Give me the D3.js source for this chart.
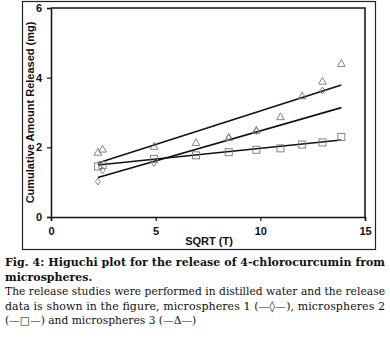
<!DOCTYPE html>
<html><head><meta charset="utf-8">
<script src="https://cdn.jsdelivr.net/npm/d3@7"></script>
<style>body{margin:0;background:#fff}svg{display:block}</style>
</head><body><svg id="c" width="390" height="339"></svg>
<script>
// Data
const sqrtT = [2.24, 2.46, 4.92, 6.93, 8.49, 9.81, 10.96, 12.0, 12.97, 13.87];
const micro3 = [1.86, 1.95, 2.03, 2.14, 2.28, 2.49, 2.88, 3.48, 3.90, 4.41];   // triangles
const micro2 = [1.45, 1.49, 1.67, 1.77, 1.86, 1.93, 1.97, 2.08, 2.14, 2.30];   // squares
const micro1 = [1.02, 1.34, 1.55, null, 2.29, 2.47, null, null, 3.63, null];   // diamonds (others hidden)
// linear trend lines [slope, intercept]
const fit1 = [0.1727, 0.745];
const fit2 = [0.0619, 1.352];
const fit3 = [0.1924, 1.121];
const xTicks = [0, 5, 10, 15];
const yTicks = [0, 2, 4, 6];
const xTitle = "SQRT (T)";
const yTitle = "Cumulative Amount Released (mg)";
const caption = [
  {t: "Fig. 4: Higuchi plot for the release of 4-chlorocurcumin from", b: true, j: true},
  {t: "microspheres.", b: true, j: false},
  {t: "The release studies were performed in distilled water and the release", b: false, j: true},
  {t: "data is shown in the figure, microspheres 1 (\u2014\u25CA\u2014), microspheres 2", b: false, j: true},
  {t: "(\u2014\u25A1\u2014) and microspheres 3 (\u2014\u0394\u2014)", b: false, j: false}
];

const svg = d3.select("#c");
const L = 51, R = 365, T = 8, B = 217;
const x = d3.scaleLinear().domain([0, 15]).range([L, R]);
const y = d3.scaleLinear().domain([0, 6]).range([B, T]);

// outer frame
svg.append("rect").attr("x", 22.5).attr("y", 1.5).attr("width", 353).attr("height", 248)
  .attr("fill", "none").attr("stroke", "#222").attr("stroke-width", 1.2);

// plot box (top / right)
svg.append("path").attr("d", `M${L},${T}H${R}V${B}`).attr("fill", "none")
  .attr("stroke", "#111").attr("stroke-width", 1.5);

const ax = svg.append("g").attr("transform", `translate(0,${B})`)
  .call(d3.axisBottom(x).tickValues(xTicks).tickFormat(d3.format("d")).tickSize(4).tickPadding(6));
const ay = svg.append("g").attr("transform", `translate(${L},0)`)
  .call(d3.axisLeft(y).tickValues(yTicks).tickFormat(d3.format("d")).tickSize(4).tickPadding(5));
[ax, ay].forEach(g => {
  g.select(".domain").attr("stroke", "#111").attr("stroke-width", 1.5);
  g.selectAll(".tick line").attr("stroke", "#111").attr("stroke-width", 1.2);
  g.selectAll("text").attr("font-family", "Liberation Sans, Arial, sans-serif")
    .attr("font-size", 11).attr("font-weight", "bold").attr("fill", "#111");
});

svg.append("text").attr("x", 209).attr("y", 245).attr("text-anchor", "middle")
  .attr("font-family", "Liberation Sans, Arial, sans-serif").attr("font-size", 11)
  .attr("font-weight", "bold").attr("fill", "#111").text(xTitle);
svg.append("text").attr("transform", `translate(34,${(T + B) / 2}) rotate(-90)`)
  .attr("text-anchor", "middle").attr("font-family", "Liberation Sans, Arial, sans-serif")
  .attr("font-size", 11).attr("font-weight", "bold").attr("fill", "#111").text(yTitle);

// trend lines
const xr = d3.extent(sqrtT);
[fit1, fit2, fit3].forEach(f => {
  svg.append("line").attr("x1", x(xr[0])).attr("x2", x(xr[1]))
    .attr("y1", y(f[0] * xr[0] + f[1])).attr("y2", y(f[0] * xr[1] + f[1]))
    .attr("stroke", "#111").attr("stroke-width", 1.6);
});

const mk = "#777";
const pts = (vals) => sqrtT.map((v, i) => [v, vals[i]]).filter(d => d[1] != null);
// diamonds
svg.append("g").selectAll("path").data(pts(micro1)).join("path")
  .attr("transform", d => `translate(${x(d[0])},${y(d[1])})`)
  .attr("d", "M0,-3.5L2.5,0L0,3.5L-2.5,0Z").attr("fill", "none").attr("stroke", mk).attr("stroke-width", 0.9);
// squares
svg.append("g").selectAll("rect").data(pts(micro2)).join("rect")
  .attr("x", d => x(d[0]) - 3.5).attr("y", d => y(d[1]) - 3.5).attr("width", 7).attr("height", 7)
  .attr("fill", "none").attr("stroke", mk).attr("stroke-width", 0.9);
// triangles
svg.append("g").selectAll("path").data(pts(micro3)).join("path")
  .attr("transform", d => `translate(${x(d[0])},${y(d[1])})`)
  .attr("d", "M0,-3.8L3.8,3L-3.8,3Z").attr("fill", "none").attr("stroke", mk).attr("stroke-width", 0.9);

// caption: fit each justified line into the column width
const cx0 = 5, cx1 = 385, W = cx1 - cx0;
svg.append("g").selectAll("text").data(caption).join("text")
  .attr("x", cx0).attr("y", (d, i) => 266 + i * 14.5)
  .attr("font-family", "DejaVu Serif, Georgia, serif")
  .attr("font-weight", d => d.b ? "bold" : "normal").attr("fill", "#111")
  .text(d => d.t)
  .each(function (d) {
    const el = d3.select(this);
    let fs = d.b ? 11.5 : 11;
    el.attr("font-size", fs);
    while (this.getComputedTextLength() > W && fs > 7) { fs -= 0.1; el.attr("font-size", fs); }
    d.fs = fs;
  })
  .each(function (d) {
    if (d.j) d3.select(this).attr("textLength", W).attr("lengthAdjust", "spacing");
  });
// make non-justified lines use the same size as their paragraph
svg.selectAll("g text").filter(d => d && d.t === caption[1].t).attr("font-size", caption[0].fs);
svg.selectAll("g text").filter(d => d && d.t === caption[4].t).attr("font-size", Math.min(caption[2].fs, caption[3].fs));
</script></body></html>
